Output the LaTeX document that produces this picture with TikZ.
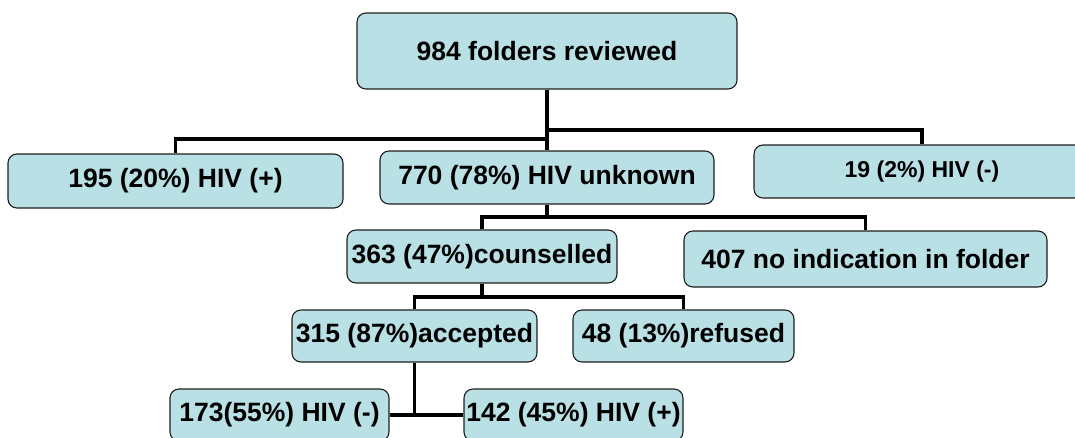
\documentclass[tikz,border=0pt]{standalone}
\usepackage{fontspec}
\setmainfont{Liberation Sans}
\definecolor{boxfill}{RGB}{185,224,228}
\definecolor{boxline}{RGB}{30,30,30}
\tikzset{
  box/.style={draw=boxline, line width=1.1pt, fill=boxfill, rounded corners=9pt,
    inner sep=1pt, align=center, font=\fontsize{26.5}{30}\selectfont\bfseries},
  smallbox/.style={box, font=\fontsize{23}{27}\selectfont\bfseries},
  link/.style={draw=black, line width=3.8pt}
}
\begin{document}
\begin{tikzpicture}[x=1pt,y=1pt]
\useasboundingbox (0,0) rectangle (1075,-437);
\clip (0,0) rectangle (1075,-437);
\coordinate (j1) at (547,-139);
\coordinate (j2) at (547,-130);
\coordinate (j3) at (547,-217);
\coordinate (j4) at (482,-297);
\node[box, minimum width=380pt, minimum height=76pt] (top) at (547,-51) {984 folders reviewed};
\node[box, minimum width=335pt, minimum height=54pt] (b195) at (175.5,-181) {195 (20\%) HIV (+)};
\node[box, minimum width=334pt, minimum height=53pt] (b770) at (547,-177.5) {770 (78\%) HIV unknown};
\node[smallbox, minimum width=336pt, minimum height=53pt] (b19) at (922,-171.5) {19 (2\%) HIV (-)};
\node[box, minimum width=270pt, minimum height=53pt] (b363) at (482,-256.5) {363 (47\%)counselled};
\node[box, minimum width=363pt, minimum height=56pt] (b407) at (865.5,-259) {407 no indication in folder};
\node[box, minimum width=245pt, minimum height=52pt] (b315) at (414.5,-336) {315 (87\%)accepted};
\node[box, minimum width=221pt, minimum height=52pt] (b48) at (683.5,-336) {48 (13\%)refused};
\node[box, minimum width=219pt, minimum height=52pt] (b173) at (279.5,-415) {173(55\%) HIV (-)};
\node[box, minimum width=219pt, minimum height=52pt] (b142) at (573.5,-415) {142 (45\%) HIV (+)};
\draw[link] (top.south) -- (b770.north);
\draw[link] (j1) -| (b195.north);
\draw[link] (j2) -| (b19.north);
\draw[link] (b770.south) -- (j3);
\draw[link] (b363.north) |- (j3) -| (b407.north);
\draw[link] (b363.south) -- (j4);
\draw[link] (b315.north) |- (j4) -| (b48.north);
\draw[link] (b315.south) -- (b315.south |- b173.east);
\draw[link] (b173.east) -- (b142.west);
\end{tikzpicture}
\end{document}
